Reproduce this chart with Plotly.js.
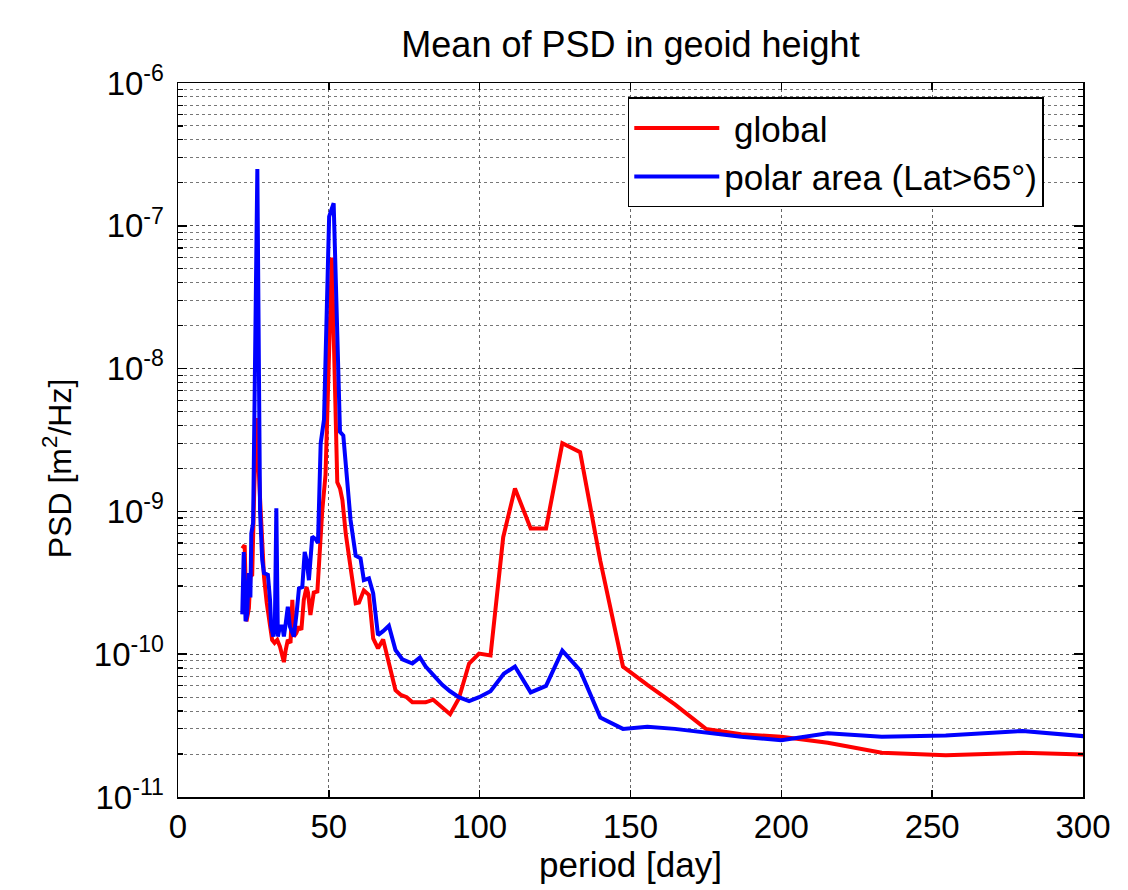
<!DOCTYPE html>
<html>
<head>
<meta charset="utf-8">
<script src="https://cdn.plot.ly/plotly-3.0.1.min.js"></script>
<style>html,body{margin:0;padding:0;background:#fff;}#chart{width:1128px;height:890px;}</style>
</head>
<body>
<div id="chart"></div>
<script>
// Global mean PSD (period in days, PSD in m^2/Hz)
var globalPeriod = [21.3, 22.1, 22.7, 23.5, 24.0, 24.6, 25.3, 26.1, 27.0, 27.9, 28.5, 29.4, 30.5, 31.2, 32.0, 32.9, 33.8, 34.6, 35.1, 35.7, 36.4, 37.3, 37.9, 38.4, 39.2, 40.1, 40.9, 41.7, 42.6, 43.1, 43.9, 45.0, 46.2, 47.8, 48.9, 51.0, 52.8, 53.7, 54.5, 55.6, 57.0, 58.9, 60.0, 61.6, 63.3, 64.7, 66.3, 68.0, 70.0, 72.1, 73.8, 75.8, 77.7, 80.0, 82.1, 84.6, 87.6, 90.2, 93.1, 96.5, 99.8, 103.6, 107.8, 111.7, 116.9, 122.0, 127.4, 133.3, 140.0, 147.5, 155.6, 164.7, 175.0, 186.7, 200.0, 215.4, 233.3, 254.5, 280.0, 311.0];
var globalPSD = [5.5e-10, 5.8e-10, 1.7e-10, 2.1e-10, 3.5e-10, 3.6e-10, 1.5e-9, 4.5e-9, 1.5e-9, 4.9e-10, 3.5e-10, 2.3e-10, 1.5e-10, 1.26e-10, 1.2e-10, 1.26e-10, 1.13e-10, 1.0e-10, 8.8e-11, 1.07e-10, 1.26e-10, 1.2e-10, 2.4e-10, 1.33e-10, 1.4e-10, 1.56e-10, 1.48e-10, 2.4e-10, 2.95e-10, 2.7e-10, 1.88e-10, 2.7e-10, 2.75e-10, 1.0e-9, 1.8e-9, 6.0e-8, 1.6e-9, 1.45e-9, 1.2e-9, 7.0e-10, 4.3e-10, 2.27e-10, 2.3e-10, 2.8e-10, 2.6e-10, 1.29e-10, 1.1e-10, 1.27e-10, 8.5e-11, 5.6e-11, 5.2e-11, 5.0e-11, 4.6e-11, 4.6e-11, 4.6e-11, 4.8e-11, 4.2e-11, 3.8e-11, 4.9e-11, 8.6e-11, 1.01e-10, 9.8e-11, 6.6e-10, 1.45e-9, 7.6e-10, 7.6e-10, 3.0e-9, 2.6e-9, 4.5e-10, 8.2e-11, 6.1e-11, 4.45e-11, 3.0e-11, 2.75e-11, 2.64e-11, 2.4e-11, 2.04e-11, 1.96e-11, 2.04e-11, 1.95e-11];

// Polar area mean PSD
var polarPeriod = [21.3, 21.8, 22.4, 22.9, 23.5, 24.0, 24.3, 24.9, 26.3, 27.2, 27.9, 28.5, 29.8, 30.5, 30.9, 31.6, 32.1, 32.6, 33.1, 33.8, 34.6, 35.1, 35.7, 36.4, 37.1, 37.9, 38.4, 39.3, 40.1, 41.2, 42.0, 42.6, 43.4, 44.5, 45.6, 46.4, 47.3, 48.4, 50.1, 51.6, 53.7, 54.8, 56.0, 57.2, 58.9, 60.5, 61.6, 63.3, 64.7, 66.3, 68.0, 69.9, 72.1, 74.4, 77.7, 80.2, 82.1, 84.6, 87.6, 90.2, 93.1, 96.5, 99.8, 103.6, 108.0, 111.7, 116.9, 122.0, 127.4, 133.3, 140.0, 147.5, 155.6, 164.7, 175.0, 186.7, 200.0, 215.4, 233.3, 254.5, 280.0, 311.0];
var polarPSD = [1.9e-10, 5.2e-10, 1.7e-10, 1.9e-10, 3.7e-10, 2.5e-10, 7.0e-10, 8.3e-10, 2.5e-7, 1.0e-9, 4.6e-10, 3.7e-10, 3.6e-10, 2.4e-10, 1.56e-10, 1.33e-10, 1.56e-10, 1.05e-9, 1.33e-10, 1.56e-10, 1.56e-10, 1.33e-10, 1.64e-10, 2.15e-10, 1.56e-10, 1.4e-10, 1.33e-10, 1.93e-10, 2.89e-10, 2.95e-10, 5.2e-10, 4.6e-10, 3.3e-10, 6.65e-10, 6.4e-10, 6.0e-10, 3.0e-9, 4.4e-9, 1.16e-7, 1.44e-7, 3.6e-9, 3.4e-9, 1.7e-9, 8.7e-10, 4.9e-10, 4.7e-10, 3.3e-10, 3.4e-10, 2.67e-10, 1.36e-10, 1.45e-10, 1.58e-10, 1.07e-10, 9.2e-11, 8.6e-11, 9.5e-11, 8.2e-11, 7.1e-11, 6.1e-11, 5.5e-11, 5.0e-11, 4.7e-11, 5.0e-11, 5.5e-11, 7.3e-11, 8.2e-11, 5.4e-11, 6.0e-11, 1.06e-10, 7.7e-11, 3.6e-11, 3.0e-11, 3.1e-11, 3.0e-11, 2.81e-11, 2.64e-11, 2.5e-11, 2.79e-11, 2.64e-11, 2.7e-11, 2.9e-11, 2.55e-11];

var seriesNames = [' global', 'polar area (Lat>65°)'];
var xTickVals = [0, 50, 100, 150, 200, 250, 300];
var yTickVals = [1e-11, 1e-10, 1e-9, 1e-8, 1e-7, 1e-6];
var yTickText = ['10<sup>-11</sup>', '10<sup>-10</sup>', '10<sup>-9</sup>', '10<sup>-8</sup>', '10<sup>-7</sup>', '10<sup>-6</sup>'];

var yMinor = [];
for (var e = -11; e < -6; e++) {
  for (var m = 2; m <= 9; m++) yMinor.push(m * Math.pow(10, e));
}

var FONT = 'Liberation Sans, Arial, Helvetica, sans-serif';

var traces = [
  {x: globalPeriod, y: globalPSD, name: seriesNames[0], type: 'scatter', mode: 'lines',
   line: {color: '#ff0000', width: 4}},
  {x: polarPeriod, y: polarPSD, name: seriesNames[1], type: 'scatter', mode: 'lines',
   line: {color: '#0000ff', width: 4}}
];

var layout = {
  width: 1128, height: 890,
  paper_bgcolor: '#ffffff', plot_bgcolor: '#ffffff',
  margin: {l: 178, r: 45, t: 83, b: 93},
  font: {family: FONT, color: '#000', size: 33},
  title: {text: 'Mean of PSD in geoid height', font: {family: FONT, size: 36, color: '#000'},
          x: 0.5, xanchor: 'center', y: 0.95, yanchor: 'middle', xref: 'paper'},
  showlegend: true,
  legend: {x: 0.497, y: 0.98, xanchor: 'left', yanchor: 'top', itemwidth: 85,
           bgcolor: '#ffffff', bordercolor: '#000', borderwidth: 1.5,
           font: {family: FONT, size: 35, color: '#000'}},
  xaxis: {
    range: [0, 300], tickvals: xTickVals, ticktext: xTickVals.map(String),
    showline: true, linecolor: '#000', linewidth: 1.5, mirror: 'ticks',
    ticks: 'inside', ticklen: 7, tickcolor: '#000', tickwidth: 1.5,
    showgrid: true, gridcolor: '#666', griddash: 'dot', gridwidth: 1,
    zeroline: false, tickfont: {family: FONT, size: 33, color: '#000'},
    title: {text: 'period [day]', font: {family: FONT, size: 35, color: '#000'}, standoff: 8}
  },
  yaxis: {
    type: 'log', range: [-11, -6], tickvals: yTickVals, ticktext: yTickText,
    showline: true, linecolor: '#000', linewidth: 1.5, mirror: 'ticks',
    ticks: 'inside', ticklen: 9, tickcolor: '#000', tickwidth: 1.5,
    showgrid: true, gridcolor: '#555', griddash: 'dot', gridwidth: 1,
    zeroline: false, tickfont: {family: FONT, size: 33, color: '#000'},
    ticklabelstandoff: 6,
    minor: {tickvals: yMinor, ticks: 'inside', ticklen: 5, tickcolor: '#000', tickwidth: 1.2,
            showgrid: true, gridcolor: '#777', griddash: 'dot', gridwidth: 1}
  },
  annotations: [{
    text: 'PSD [m<sup>2</sup>/Hz]', textangle: -90, showarrow: false,
    xref: 'paper', yref: 'paper', x: -0.134, y: 0.46, xanchor: 'center', yanchor: 'middle',
    font: {family: FONT, size: 32, color: '#000'}
  }]
};

Plotly.newPlot('chart', traces, layout, {displayModeBar: false, staticPlot: true});
</script>
</body>
</html>
